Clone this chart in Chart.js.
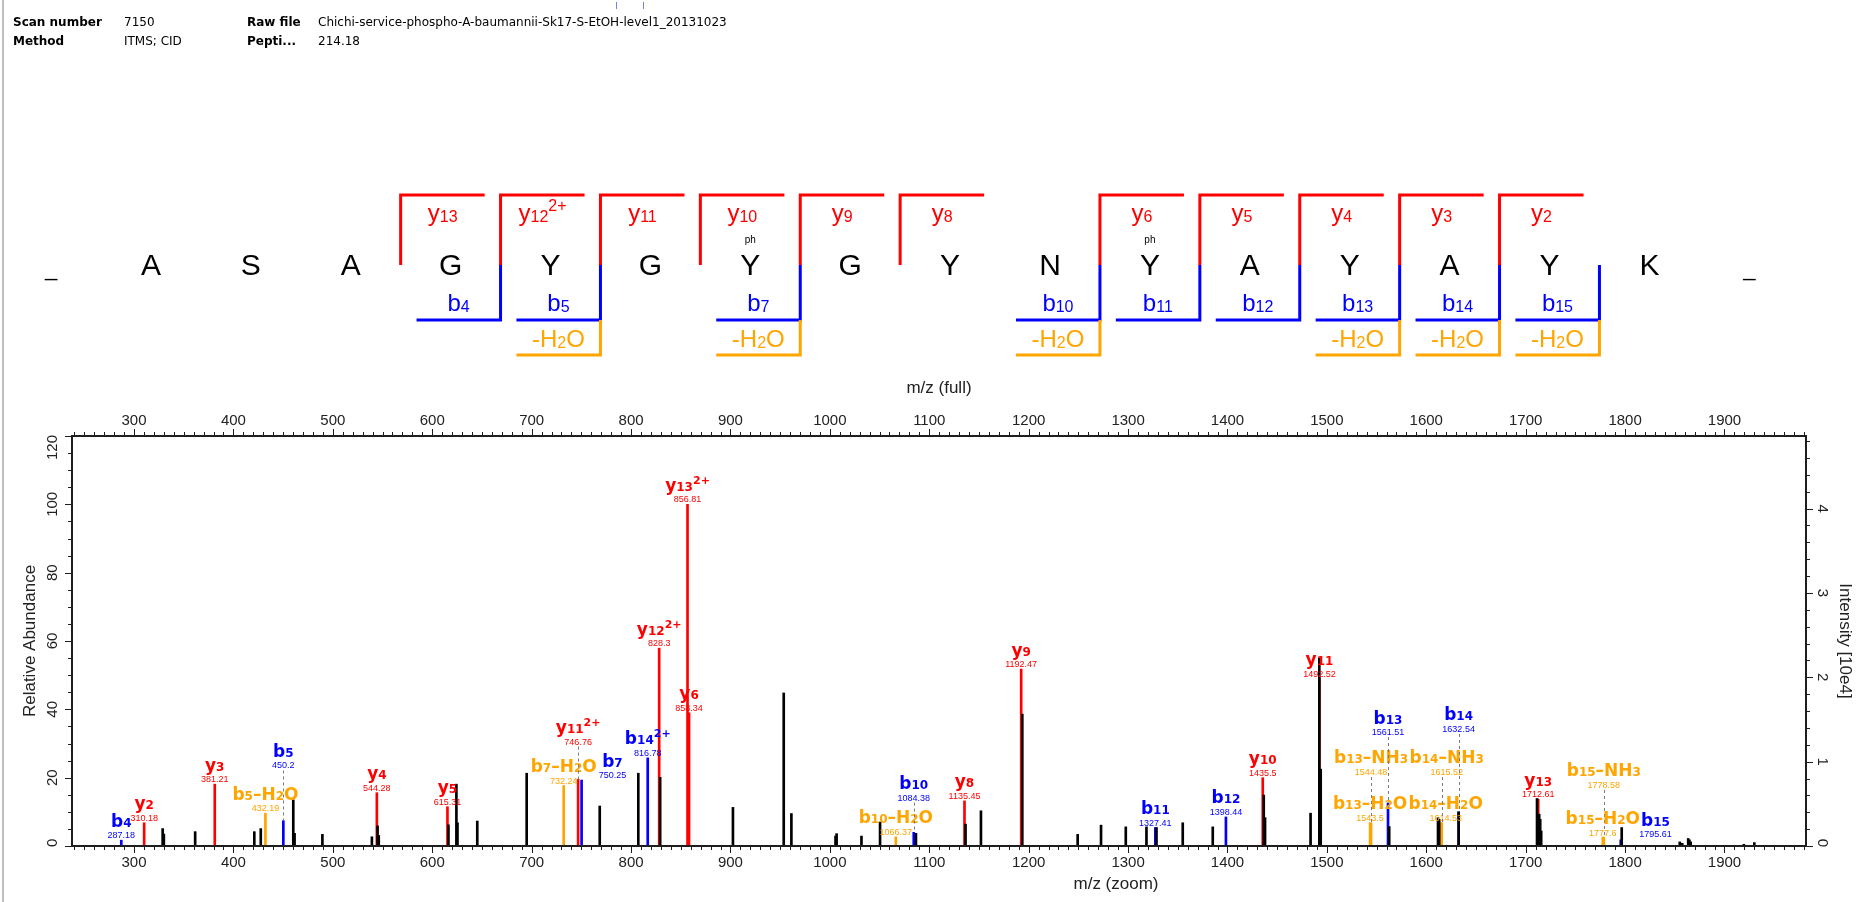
<!DOCTYPE html>
<html>
<head>
<meta charset="utf-8">
<script src="https://cdn.jsdelivr.net/npm/chart.js@4.4.1/dist/chart.umd.min.js"></script>
<style>
  html, body { margin: 0; padding: 0; background: #fff; }
  #wrap { width: 1872px; height: 902px; position: relative; }
</style>
</head>
<body>
<div id="wrap"><canvas id="spectrum" width="1872" height="902"></canvas></div>
<script>
// ---- scan info ----
const scanNumber = "7150";
const rawFile = "Chichi-service-phospho-A-baumannii-Sk17-S-EtOH-level1_20131023";
const method = "ITMS; CID";
const peptideScore = "214.18";

// ---- peptide / fragment coverage ----
const residues = ["A", "S", "A", "G", "Y", "G", "Y", "G", "Y", "N", "Y", "A", "Y", "A", "Y", "K"];
const phosphoSites = [7, 11];
const yIons = [13, 12, 11, 10, 9, 8, 6, 5, 4, 3, 2];
const yCharges = ["", "2+", "", "", "", "", "", "", "", "", ""];
const bIons = [4, 5, 7, 10, 11, 12, 13, 14, 15];
const bWaterLoss = [5, 7, 10, 13, 14, 15];

// ---- unassigned peaks (m/z, relative abundance) ----
const peakMz = [328.8, 330.0, 361.5, 421.0, 427.5, 460.2, 461.5, 489.5, 539.3, 545.0,
  546.2, 616.3, 624.3, 625.4, 645.3, 695.0, 768.5, 807.3, 829.3, 902.5,
  953.6, 961.3, 1005.7, 1006.8, 1031.8, 1050.5, 1086.6, 1136.5, 1152.0, 1193.6,
  1249.3, 1272.8, 1297.7, 1318.5, 1328.6, 1355.0, 1385.2, 1436.5, 1437.8, 1483.6,
  1492.4, 1493.8, 1562.7, 1611.8, 1613.0, 1632.6, 1711.4, 1713.6, 1714.6, 1715.6,
  1796.6, 1855.0, 1857.5, 1863.5, 1864.7, 1866.0, 1919.5, 1930.0];
const peakAbund = [5.1, 3.5, 4.2, 4.2, 5.1, 13.5, 3.7, 3.4, 2.7, 5.9,
  3.1, 6.2, 18.1, 6.8, 7.3, 21.3, 11.7, 21.3, 20.1, 11.3,
  44.8, 9.5, 2.9, 3.6, 2.9, 7.0, 3.7, 6.4, 10.3, 38.6,
  3.4, 6.1, 5.6, 5.6, 5.4, 6.8, 5.6, 14.9, 8.3, 9.6,
  55.0, 22.5, 5.7, 8.3, 7.8, 10.0, 13.9, 9.3, 7.8, 4.4,
  5.4, 1.2, 0.8, 2.2, 1.8, 1.2, 0.5, 1.0];

// ---- annotated fragment peaks ----
const ionNames = ["b4", "y2", "y3", "b5-H2O", "b5", "y4", "y5", "b7-H2O", "y11 2+", "b7",
  "b14 2+", "y12 2+", "y13 2+", "y6", "b10-H2O", "b10", "y8", "y9", "b11", "b12",
  "y10", "y11", "b13-H2O", "b13-NH3", "b13", "b14-H2O", "b14-NH3", "b14", "y13", "b15-NH3",
  "b15-H2O", "b15"];
const ionMz = [287.18, 310.18, 381.21, 432.19, 450.2, 544.28, 615.31, 732.24, 746.76, 750.25,
  816.78, 828.3, 856.81, 858.34, 1066.37, 1084.38, 1135.45, 1192.47, 1327.41, 1398.44,
  1435.5, 1492.52, 1543.5, 1544.48, 1561.51, 1614.53, 1615.52, 1632.54, 1712.61, 1778.58,
  1777.6, 1795.61];
const ionAbund = [1.7, 6.8, 18.1, 9.6, 7.4, 15.6, 11.5, 17.7, 19.5, 19.3,
  25.8, 57.9, 100, 39.0, 2.7, 4.0, 13.2, 51.8, 5.4, 8.5,
  20.0, 49.0, 6.8, 6.8, 12.6, 6.8, 6.8, 10.0, 13.7, 2.6,
  2.6, 1.8];
// level (relative abundance) at which each label sits, and its m/z nudge
const ionLabelLevel = [1.7, 6.8, 18.1, 9.6, 22.1, 15.6, 11.5, 17.7, 29.1, 19.3,
  25.8, 57.9, 100, 39.0, 2.7, 12.7, 13.2, 51.8, 5.4, 8.5,
  20.0, 49.0, 6.8, 20.2, 31.9, 6.8, 20.2, 32.8, 13.7, 16.4,
  2.4, 2.0];
const ionLabelShift = [0, 0, 0, 0, 0, 0, 0, 0, 0, 31,
  0, 0, 0, 0, 0, 0, 0, 0, 0, 0,
  0, 0, 0, 0, 0, 5, 5, 0, 0, 0,
  0, 35];

// ---- axes ----
const mzTicks = [300, 400, 500, 600, 700, 800, 900, 1000, 1100, 1200, 1300, 1400, 1500, 1600, 1700, 1800, 1900];
const abundTicks = [0, 20, 40, 60, 80, 100, 120];
const intensityTicks = [0, 1, 2, 3, 4];
const basePeakIntensity = 4.05; // x 10e4
const mzMin = 237.6, mzMax = 1982;
const abundMax = 120;

const RED = "#ff0000", BLUE = "#0000ff", ORANGE = "#ffa500", AXIS = "#1e1e1e";
const TICK_FONT = '"Liberation Sans", Arial, sans-serif';
const LABEL_FONT = '"DejaVu Sans", sans-serif';
const SEQ_FONT = '"Liberation Sans", Arial, sans-serif';

function ionColor(name) {
  if (name.includes("-")) return ORANGE;
  return name[0] === "y" ? RED : BLUE;
}

function ionSegs(name, dash) {
  const m = name.match(/^([by])(\d+)(-H2O|-NH3)?(?: (\d\+))?$/);
  const s = [{ t: m[1], k: "n" }, { t: m[2], k: "sub" }];
  if (m[3] === "-H2O") s.push({ t: dash + "H", k: "n" }, { t: "2", k: "sub" }, { t: "O", k: "n" });
  if (m[3] === "-NH3") s.push({ t: dash + "NH", k: "n" }, { t: "3", k: "sub" });
  if (m[4]) s.push({ t: m[4], k: "sup" });
  return s;
}

// draws text made of normal / subscript / superscript pieces, centered on cx
function drawSegs(ctx, segs, cx, baseline, color, st) {
  let w = 0;
  const placed = segs.map(s => {
    ctx.font = `${st.weight} ${st.size[s.k]}px ${st.family}`;
    const sw = ctx.measureText(s.t).width;
    const p = { t: s.t, k: s.k, x: w };
    w += sw;
    return p;
  });
  const x0 = cx - w / 2;
  ctx.fillStyle = color;
  ctx.textAlign = "left";
  ctx.textBaseline = "alphabetic";
  placed.forEach(p => {
    ctx.font = `${st.weight} ${st.size[p.k]}px ${st.family}`;
    const dy = p.k === "sub" ? st.subDy : p.k === "sup" ? st.supDy : 0;
    ctx.fillText(p.t, x0 + p.x, baseline + dy);
  });
}

const specStyle = { family: LABEL_FONT, weight: "bold", size: { n: 17, sub: 12, sup: 11 }, subDy: 0, supDy: -7 };
const seqStyle = { family: SEQ_FONT, weight: "normal", size: { n: 24, sub: 16, sup: 16 }, subDy: 1, supDy: -10 };

function line(ctx, x1, y1, x2, y2) { ctx.moveTo(x1, y1); ctx.lineTo(x2, y2); }

function drawHeader(ctx) {
  ctx.fillStyle = "#000";
  ctx.textAlign = "left";
  ctx.textBaseline = "middle";
  const bold = '600 12px "DejaVu Sans", sans-serif';
  const norm = '12px "DejaVu Sans", sans-serif';
  [["Scan number", scanNumber, "Raw file", rawFile, 23], ["Method", method, "Pepti...", peptideScore, 41.5]]
    .forEach(r => {
      ctx.font = bold; ctx.fillText(r[0], 13, r[4]);
      ctx.font = norm; ctx.fillText(r[1], 124, r[4]);
      ctx.font = bold; ctx.fillText(r[2], 247, r[4]);
      ctx.font = norm; ctx.fillText(r[3], 318, r[4]);
    });
  // window border
  ctx.strokeStyle = "#a8a8a8";
  ctx.lineWidth = 1.5;
  ctx.beginPath(); line(ctx, 3, 0, 3, 902); ctx.stroke();
  ctx.strokeStyle = "#6a8ad8";
  ctx.lineWidth = 1;
  ctx.beginPath(); line(ctx, 616.5, 2, 616.5, 9); line(ctx, 643.5, 2, 643.5, 9); ctx.stroke();
}

function drawSequence(ctx) {
  const seqStart = 51, seqStep = 99.9;
  const seqX = k => seqStart + k * seqStep;
  const cut = k => seqX(k) + seqStep / 2;
  const arm = 84;
  const yTop = 195, yMid = 265, yB = 320, yW = 355;

  ctx.fillStyle = "#000";
  ctx.textAlign = "center";
  ctx.textBaseline = "alphabetic";
  ctx.font = `30px ${SEQ_FONT}`;
  residues.forEach((r, i) => ctx.fillText(r, seqX(i + 1), 275));
  ctx.font = `22px ${SEQ_FONT}`;
  ctx.fillText("_", seqX(0), 276);
  ctx.fillText("_", seqX(residues.length + 1), 276);
  ctx.font = `10px ${SEQ_FONT}`;
  phosphoSites.forEach(p => ctx.fillText("ph", seqX(p), 243));

  ctx.lineWidth = 3;
  ctx.lineCap = "butt";
  ctx.lineJoin = "miter";
  yIons.forEach((n, j) => {
    const x = cut(residues.length - n);
    ctx.strokeStyle = RED;
    ctx.beginPath(); ctx.moveTo(x, yMid); ctx.lineTo(x, yTop); ctx.lineTo(x + arm, yTop); ctx.stroke();
    const name = "y" + n + (yCharges[j] ? " " + yCharges[j] : "");
    drawSegs(ctx, ionSegs(name, "-"), x + arm / 2, 221, RED, seqStyle);
  });
  bIons.forEach(n => {
    const x = cut(n);
    ctx.strokeStyle = BLUE;
    ctx.beginPath(); ctx.moveTo(x - arm, yB); ctx.lineTo(x, yB); ctx.lineTo(x, yMid); ctx.stroke();
    drawSegs(ctx, ionSegs("b" + n, "-"), x - arm / 2, 311, BLUE, seqStyle);
  });
  bWaterLoss.forEach(n => {
    const x = cut(n);
    ctx.strokeStyle = ORANGE;
    ctx.beginPath(); ctx.moveTo(x - arm, yW); ctx.lineTo(x, yW); ctx.lineTo(x, yB); ctx.stroke();
    drawSegs(ctx, [{ t: "-H", k: "n" }, { t: "2", k: "sub" }, { t: "O", k: "n" }], x - arm / 2, 347, ORANGE, seqStyle);
  });
}

// rotated tick label, kept inside the axis extent
function vLabel(ctx, text, x, y, angle, lo, hi) {
  const w = ctx.measureText(text).width;
  const c = Math.min(Math.max(y, lo + w / 2), hi - w / 2);
  ctx.save();
  ctx.translate(x, c);
  ctx.rotate(angle);
  ctx.fillText(text, 0, 0);
  ctx.restore();
}

function drawAxes(chart) {
  const ctx = chart.ctx;
  const xs = chart.scales.x, ys = chart.scales.y, y2s = chart.scales.y2;
  const { left, right, top, bottom } = chart.chartArea;
  ctx.save();
  ctx.strokeStyle = AXIS;
  ctx.lineWidth = 2;
  ctx.strokeRect(left, top, right - left, bottom - top);

  ctx.lineWidth = 1;
  ctx.beginPath();
  for (let v = Math.ceil(mzMin / 10) * 10; v <= mzMax; v += 10) {
    const p = Math.round(xs.getPixelForValue(v)) + 0.5;
    const len = v % 100 === 0 ? 7 : 4;
    line(ctx, p, bottom, p, bottom + len);
    line(ctx, p, top, p, top - len);
  }
  for (let v = 0; v <= abundMax; v += 5) {
    const p = Math.round(ys.getPixelForValue(v)) + 0.5;
    line(ctx, left, p, left - (v % 20 === 0 ? 7 : 4), p);
  }
  for (let k = 0; k * 0.2 <= y2s.max; k++) {
    const p = Math.round(y2s.getPixelForValue(k * 0.2)) + 0.5;
    line(ctx, right, p, right + (k % 5 === 0 ? 7 : 4), p);
  }
  ctx.stroke();

  ctx.fillStyle = "#222";
  ctx.font = `15px ${TICK_FONT}`;
  ctx.textAlign = "center";
  ctx.textBaseline = "middle";
  mzTicks.forEach(v => {
    const p = xs.getPixelForValue(v);
    ctx.fillText(String(v), p, bottom + 17);
    ctx.fillText(String(v), p, top - 15);
  });
  abundTicks.forEach(v => vLabel(ctx, String(v), left - 19, ys.getPixelForValue(v), -Math.PI / 2, top - 1, bottom + 1));
  intensityTicks.forEach(v => vLabel(ctx, String(v), right + 16, y2s.getPixelForValue(v), Math.PI / 2, top - 1, bottom + 1));

  ctx.font = `17px ${TICK_FONT}`;
  ctx.fillText("m/z (full)", (left + right) / 2, 388);
  ctx.fillText("m/z (zoom)", 1116, 884);
  const midY = (top + bottom) / 2;
  ctx.save(); ctx.translate(30, midY); ctx.rotate(-Math.PI / 2);
  ctx.fillText("Relative Abundance", 0, 0); ctx.restore();
  ctx.save(); ctx.translate(1845, midY); ctx.rotate(Math.PI / 2);
  ctx.fillText("Intensity [10e4]", 0, 0); ctx.restore();
  ctx.restore();
}

function drawIonLabels(chart) {
  const ctx = chart.ctx;
  const xs = chart.scales.x, ys = chart.scales.y;
  ctx.save();
  ionNames.forEach((name, i) => {
    const col = ionColor(name);
    const px = Math.round(xs.getPixelForValue(ionMz[i])) + 0.5;
    const lx = xs.getPixelForValue(ionMz[i] + ionLabelShift[i]);
    const peakTop = ys.getPixelForValue(ionAbund[i]);
    const lvl = ys.getPixelForValue(ionLabelLevel[i]);
    if (peakTop - lvl > 4) {
      ctx.strokeStyle = "#7a7a7a";
      ctx.lineWidth = 1;
      ctx.setLineDash([3, 3]);
      ctx.beginPath(); line(ctx, px, lvl, px, peakTop); ctx.stroke();
      ctx.setLineDash([]);
    }
    ctx.fillStyle = col;
    ctx.font = `9px ${TICK_FONT}`;
    ctx.textAlign = "center";
    ctx.textBaseline = "alphabetic";
    ctx.fillText(String(parseFloat(ionMz[i].toFixed(2))), lx, lvl - 2);
    drawSegs(ctx, ionSegs(name, "\u2013"), lx, lvl - 13.5, col, specStyle);
  });
  ctx.restore();
}

const overlay = {
  id: "overlay",
  afterDatasetsDraw(chart) { drawIonLabels(chart); },
  afterDraw(chart) {
    const ctx = chart.ctx;
    ctx.save();
    drawHeader(ctx);
    drawSequence(ctx);
    ctx.restore();
    drawAxes(chart);
  }
};

const ionPoints = color => ionNames
  .map((n, i) => (ionColor(n) === color ? { x: ionMz[i], y: ionAbund[i] } : null))
  .filter(p => p);

const barStyle = { barThickness: 2, grouped: false, borderWidth: 0 };

new Chart(document.getElementById("spectrum"), {
  type: "bar",
  data: {
    datasets: [
      { label: "unassigned", data: peakMz.map((m, i) => ({ x: m, y: peakAbund[i] })), backgroundColor: "#000", ...barStyle },
      { label: "y", data: ionPoints(RED), backgroundColor: RED, ...barStyle },
      { label: "b", data: ionPoints(BLUE), backgroundColor: BLUE, ...barStyle },
      { label: "neutral loss", data: ionPoints(ORANGE), backgroundColor: ORANGE, ...barStyle }
    ]
  },
  options: {
    responsive: false,
    animation: false,
    events: [],
    layout: { padding: { left: 72, right: 66, top: 436, bottom: 56 } },
    plugins: { legend: { display: false }, tooltip: { enabled: false } },
    scales: {
      x: { type: "linear", min: mzMin, max: mzMax, offset: false, display: false },
      y: { type: "linear", min: 0, max: abundMax, display: false },
      y2: { type: "linear", position: "right", min: 0, max: abundMax / 100 * basePeakIntensity, display: false }
    }
  },
  plugins: [overlay]
});
</script>
</body>
</html>
